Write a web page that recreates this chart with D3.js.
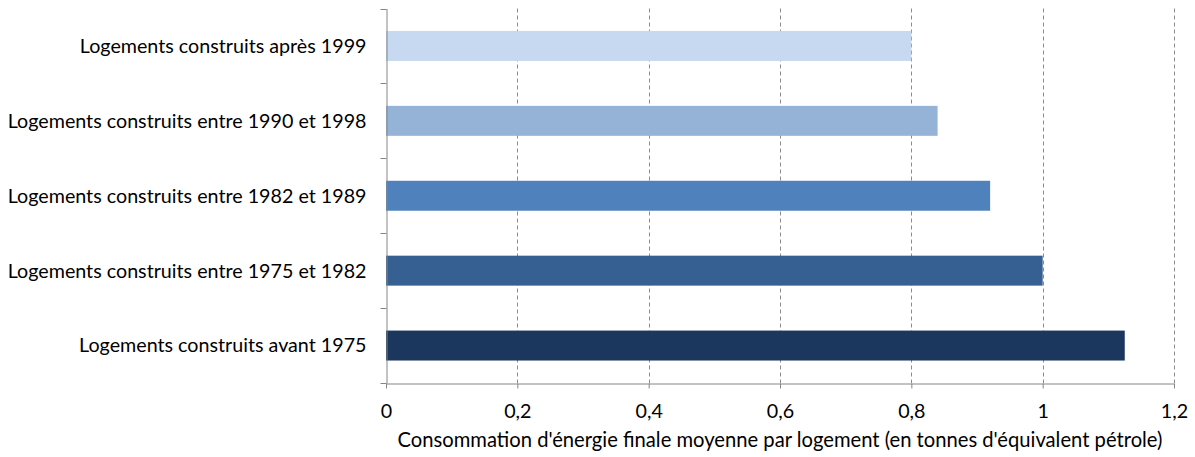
<!DOCTYPE html>
<html>
<head>
<meta charset="utf-8">
<script src="https://cdnjs.cloudflare.com/ajax/libs/d3/7.8.5/d3.min.js"></script>
<style>
    body { margin: 0; background: #fff; }
    svg text { font-family: Lato, "Open Sans", sans-serif; fill: #000; }
</style>
</head>
<body>
<svg id="chart" width="1195" height="457"></svg>
<script>
    const categories = [
        "Logements construits après 1999",
        "Logements construits entre 1990 et 1998",
        "Logements construits entre 1982 et 1989",
        "Logements construits entre 1975 et 1982",
        "Logements construits avant 1975"
    ];
    const values = [0.80, 0.84, 0.92, 1.00, 1.125];
    const colors = ["#c6d9f1", "#95b3d7", "#4f81bd", "#376092", "#1b375d"];
    const xTicks = [0, 0.2, 0.4, 0.6, 0.8, 1, 1.2];
    const xTitle = "Consommation d'énergie finale moyenne par logement (en tonnes d'équivalent pétrole)";

    const svg = d3.select("#chart");
    const plotLeft = 386, plotRight = 1174, plotTop = 8.5, plotBottom = 383;
    const fontSize = "19.7px";

    const x = d3.scaleLinear().domain([0, 1.2]).range([plotLeft, plotRight]);
    const y = d3.scaleBand().domain(categories).range([plotTop, plotBottom]).paddingInner(0.6).paddingOuter(0.3);
    const band = d3.scaleBand().domain(categories).range([plotTop, plotBottom]);

    // gridlines
    svg.append("g")
        .selectAll("line")
        .data(xTicks.slice(1))
        .enter().append("line")
        .attr("x1", d => Math.round(x(d)) + 0.5)
        .attr("x2", d => Math.round(x(d)) + 0.5)
        .attr("y1", plotTop)
        .attr("y2", plotBottom)
        .attr("stroke", "#8c8c8c")
        .attr("stroke-dasharray", "4,3");

    // bars
    svg.append("g")
        .selectAll("rect")
        .data(categories)
        .enter().append("rect")
        .attr("x", plotLeft)
        .attr("y", d => y(d))
        .attr("width", (d, i) => x(values[i]) - plotLeft)
        .attr("height", y.bandwidth())
        .attr("fill", (d, i) => colors[i]);

    // y axis
    const yAxis = svg.append("g")
        .attr("transform", `translate(${plotLeft + 0.5},0)`)
        .call(d3.axisLeft(band).tickValues([]).tickSizeOuter(0));
    yAxis.select(".domain").attr("stroke", "#868686");
    const yTickPos = d3.range(categories.length + 1).map(i => plotTop + i * band.step());
    yAxis.selectAll("line.yt")
        .data(yTickPos)
        .enter().append("line")
        .attr("class", "yt")
        .attr("x1", -6).attr("x2", 0)
        .attr("y1", d => Math.round(d) + 0.5)
        .attr("y2", d => Math.round(d) + 0.5)
        .attr("stroke", "#868686");
    yAxis.selectAll("text.cat")
        .data(categories)
        .enter().append("text")
        .attr("class", "cat")
        .attr("x", -20)
        .attr("y", d => band(d) + band.bandwidth() / 2)
        .attr("dy", "0.35em")
        .attr("text-anchor", "end")
        .style("font-size", fontSize)
        .text(d => d);

    // x axis
    const xAxis = svg.append("g")
        .attr("transform", `translate(0,${plotBottom + 0.5})`)
        .call(d3.axisBottom(x)
            .tickValues(xTicks)
            .tickSize(5)
            .tickSizeOuter(0)
            .tickPadding(16)
            .tickFormat(d => String(d).replace(".", ",")));
    xAxis.select(".domain").attr("stroke", "#868686");
    xAxis.selectAll(".tick line").attr("stroke", "#868686");
    xAxis.selectAll(".tick text")
        .style("font-size", fontSize)
        .style("font-family", "Lato, 'Open Sans', sans-serif")
        .attr("fill", "#000");

    svg.append("text")
        .attr("x", 780)
        .attr("y", 447)
        .attr("text-anchor", "middle")
        .style("font-size", "20.2px")
        .text(xTitle);
</script>
</body>
</html>
